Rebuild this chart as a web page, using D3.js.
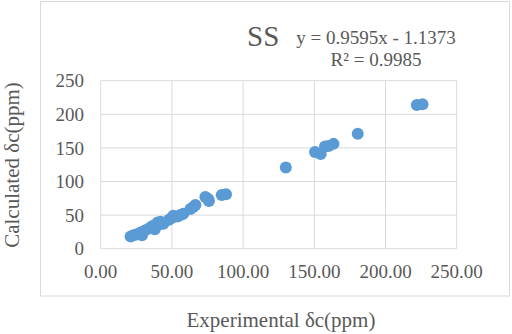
<!DOCTYPE html>
<html>
<head>
<meta charset="utf-8">
<script src="https://cdn.jsdelivr.net/npm/d3@7"></script>
<style>
  body { margin: 0; background: #fff; }
  text { font-family: "Liberation Serif", "DejaVu Serif", serif; fill: #595959; }
</style>
</head>
<body>
<svg id="chart" width="512" height="334"></svg>
<script>
// experimental vs calculated shifts
let experimental = [21, 23, 25, 28, 29, 31, 34, 36, 37, 38, 40, 41, 42, 44, 48, 50, 51, 54, 56, 58, 63, 65, 66.5, 73.5, 75.5, 76, 85, 88, 130, 150.5, 154.5, 157.5, 160, 163.5, 180.5, 222, 226];
let calculated = [18, 20, 21, 24, 20, 27, 30, 33, 34, 29, 39, 36, 40, 37, 43, 46, 49, 48, 50, 52, 59, 62, 65, 77, 74, 71, 80, 81, 121, 144, 141, 152, 153, 156, 171, 214, 215];
let xTicks = [0, 50, 100, 150, 200, 250];
let yTicks = [0, 50, 100, 150, 200, 250];

let svg = d3.select("#chart");
let plotLeft = 100.7, plotRight = 456.7, plotTop = 80.7, plotBottom = 248.7;

let x = d3.scaleLinear().domain([0, 250]).range([plotLeft, plotRight]);
let y = d3.scaleLinear().domain([0, 250]).range([plotBottom, plotTop]);

// outer chart frame
svg.append("rect")
  .attr("x", 40.5).attr("y", 1.5)
  .attr("width", 469).attr("height", 294.5)
  .style("fill", "none")
  .style("stroke", "#d9d9d9")
  .style("stroke-width", 1);

// gridlines
svg.append("g")
  .selectAll("line")
  .data(xTicks)
  .join("line")
  .attr("x1", (d) => x(d)).attr("x2", (d) => x(d))
  .attr("y1", plotTop).attr("y2", plotBottom)
  .style("stroke", "#d9d9d9");

svg.append("g")
  .selectAll("line")
  .data(yTicks)
  .join("line")
  .attr("x1", plotLeft).attr("x2", plotRight)
  .attr("y1", (d) => y(d)).attr("y2", (d) => y(d))
  .style("stroke", "#d9d9d9");

// tick labels
svg.append("g")
  .selectAll("text")
  .data(yTicks)
  .join("text")
  .attr("x", 84)
  .attr("y", (d) => y(d))
  .attr("dy", "0.35em")
  .attr("text-anchor", "end")
  .style("font-size", "19px")
  .text((d) => d);

svg.append("g")
  .selectAll("text")
  .data(xTicks)
  .join("text")
  .attr("x", (d) => x(d))
  .attr("y", 278)
  .attr("text-anchor", "middle")
  .style("font-size", "19px")
  .text((d) => d.toFixed(2));

// points
svg.append("g")
  .selectAll("circle")
  .data(experimental)
  .join("circle")
  .attr("cx", (d) => x(d))
  .attr("cy", (d, i) => y(calculated[i]))
  .attr("r", 6)
  .style("fill", "#5b9bd5");

// titles
svg.append("text")
  .attr("x", 281).attr("y", 327)
  .attr("text-anchor", "middle")
  .style("font-size", "21px")
  .text("Experimental δc(ppm)");

svg.append("text")
  .attr("transform", "translate(18.5,165) rotate(-90)")
  .attr("text-anchor", "middle")
  .style("font-size", "21px")
  .text("Calculated δc(ppm)");

svg.append("text")
  .attr("x", 247).attr("y", 46)
  .style("font-size", "29px")
  .text("SS");

svg.append("text")
  .attr("x", 376).attr("y", 44)
  .attr("text-anchor", "middle")
  .style("font-size", "19px")
  .text("y = 0.9595x - 1.1373");

svg.append("text")
  .attr("x", 376).attr("y", 66)
  .attr("text-anchor", "middle")
  .style("font-size", "19px")
  .text("R² = 0.9985");
</script>
</body>
</html>
